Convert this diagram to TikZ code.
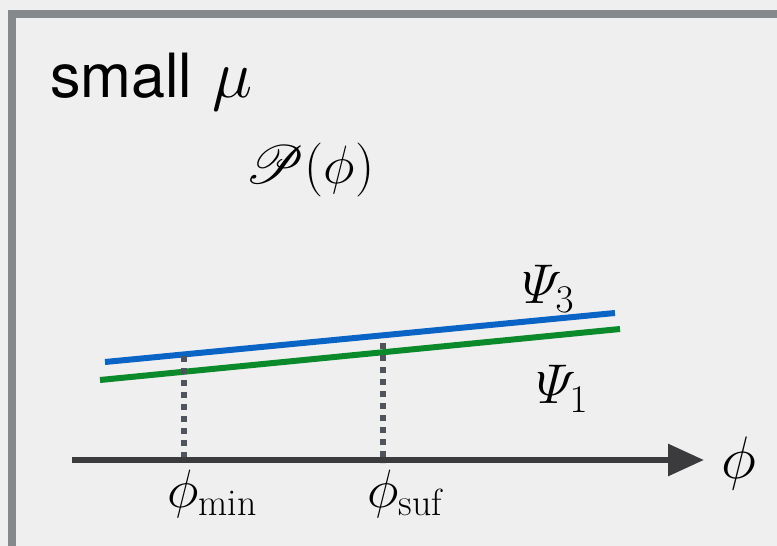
\RequirePackage{fix-cm}
\documentclass[tikz,border=0pt]{standalone}
\usepackage{fontspec}
\setsansfont{TeX Gyre Heros}
\usepackage{amsmath}
\usepackage{mathrsfs}
\DeclareFontFamily{U}{rsfs}{\skewchar\font127 }
\DeclareFontShape{U}{rsfs}{m}{n}{<-> rsfs10}{}
\usetikzlibrary{arrows.meta}
\definecolor{bgc}{HTML}{EFEFEF}
\definecolor{framec}{HTML}{86898C}
\definecolor{bluec}{HTML}{0A64C6}
\definecolor{greenc}{HTML}{0B8A2C}
\definecolor{axisc}{HTML}{3B3B3E}
\definecolor{dotc}{HTML}{4F535B}
\tikzset{
  curveline/.style={line width=6pt},
  dropline/.style={line width=5.5pt, dotc, dash pattern=on 6pt off 6pt},
  axisline/.style={line width=6pt, axisc, -{Triangle[length=36pt,width=31pt]}},
  mathlbl/.style={inner sep=0pt, font=\fontsize{56}{64}\selectfont},
  sublbl/.style={inner sep=0pt, font=\fontsize{54}{62}\selectfont},
}
\begin{document}
\begin{tikzpicture}[x=1pt,y=-1pt]
\useasboundingbox (0,0) rectangle (777,546);
\fill[bgc] (0,0) rectangle (777,546);
\draw[framec, line width=8pt] (12,14) rectangle (800,570);
% curves
\coordinate (b1) at (105,362);
\coordinate (b2) at (615,313);
\coordinate (g1) at (100,380);
\coordinate (g2) at (620,329);
\draw[curveline, greenc] (g1) -- (g2);
\draw[curveline, bluec] (b1) -- (b2);
% axis
\coordinate (a0) at (72,460);
\coordinate (a1) at (704,460);
\coordinate (m0) at (184,356);
\coordinate (m1) at (184,463);
\coordinate (s0) at (383,343);
\coordinate (s1) at (383,463);
\draw[dropline] (m0) -- (m1);
\draw[dropline] (s0) -- (s1);
\draw[axisline] (a0) -- (a1);
% labels
\node[anchor=base west, inner sep=0pt, font=\fontsize{61}{70}\selectfont] (title) at (50,97) {\sffamily small\hspace{20pt}{\fontsize{68}{70}\selectfont$\mu$}};
\node[mathlbl, font=\fontsize{54}{62}\selectfont] (P) at (310,170) {$\mathscr{P}(\phi)$};
\node[mathlbl] (psi3) at (548,289) {$\varPsi_3$};
\node[mathlbl] (psi1) at (562,389) {$\varPsi_1$};
\node[mathlbl, font=\fontsize{60}{70}\selectfont] (phi) at (739,463) {$\phi$};
\node[sublbl] (phimin) at (212,494) {$\phi_{\mathrm{min}}$};
\node[sublbl] (phisuf) at (405,494) {$\phi_{\mathrm{suf}}$};
\end{tikzpicture}
\end{document}
